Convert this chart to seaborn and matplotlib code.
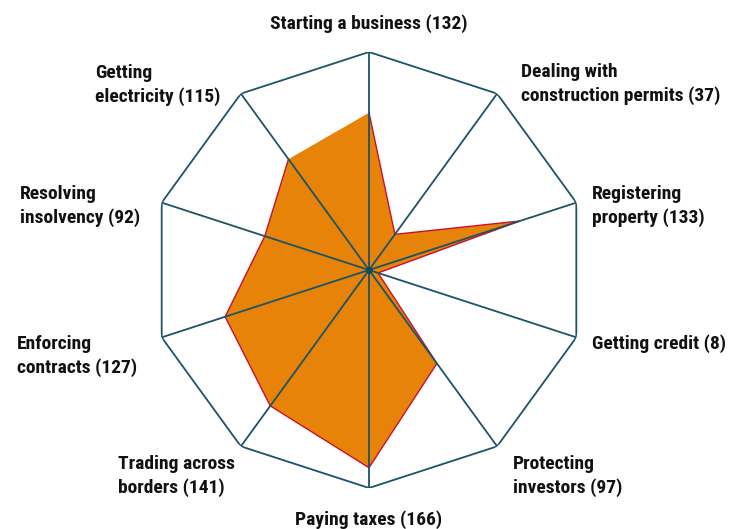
import numpy as np
import matplotlib
matplotlib.use("Agg")
import matplotlib.pyplot as plt
import seaborn as sns

# ---- data ----
categories = ["Starting a business", "Dealing with construction permits",
              "Registering property", "Getting credit", "Protecting investors",
              "Paying taxes", "Trading across borders", "Enforcing contracts",
              "Resolving insolvency", "Getting electricity"]
label_text = ["Starting a business (132)", "Dealing with\nconstruction permits (37)",
              "Registering\nproperty (133)", "Getting credit (8)",
              "Protecting\ninvestors (97)", "Paying taxes (166)",
              "Trading across\nborders (141)", "Enforcing\ncontracts (127)",
              "Resolving\ninsolvency (92)", "Getting\nelectricity (115)"]
ranks = [132, 37, 133, 8, 97, 166, 141, 127, 92, 115]
RMAX = 183

sns.set_theme(style="white")
plt.rcParams["font.family"] = ["Roboto Condensed", "Lato", "DejaVu Sans"]

frame_col = "#1c5366"
fill_col = "#e8830a"
edge_col = "#c8102e"

n = len(categories)
theta = np.arange(n) * 2 * np.pi / n
theta_c = np.append(theta, theta[0])
ranks_c = np.append(ranks, ranks[0])

fig = plt.figure(figsize=(7.32, 5.29), dpi=100)
ax = fig.add_axes([0.2063, 0.0775, 0.5956, 0.8242], projection="polar")
ax.set_theta_offset(np.pi / 2)
ax.set_theta_direction(-1)
ax.set_ylim(0, RMAX)
ax.set_axis_off()

ax.fill(theta_c, ranks_c, color=fill_col, zorder=1, lw=0)
sns.lineplot(x=theta_c, y=ranks_c, sort=False, ax=ax, color=edge_col, lw=1.0, zorder=2)

ax.plot(theta_c, [RMAX] * len(theta_c), color=frame_col, lw=1.3, zorder=3)
for t in theta:
    ax.plot([t, t], [0, RMAX], color=frame_col, lw=1.3, zorder=3)
ax.plot([0], [0], "o", color="#1a4a55", ms=4, zorder=4)

offsets = [(0, 28, "center"), (24, 9.5, "left"), (16, -3.5, "left"), (16, -6, "left"),
           (16, -29.5, "left"), (0, -32, "center"), (-6, -29.5, "right"),
           (-25, -18.5, "right"), (-22, -3.5, "right"), (-20, 8.5, "right")]
for t, lab, (ox, oy, ha) in zip(theta, label_text, offsets):
    ax.annotate(lab, xy=(t, RMAX), xytext=(ox, oy), textcoords="offset pixels",
                ha=ha, va="center", multialignment="left", fontsize=14,
                fontweight="bold", color="#111111", linespacing=1.33,
                annotation_clip=False)

fig.savefig("out.png", dpi=100, facecolor="white")
